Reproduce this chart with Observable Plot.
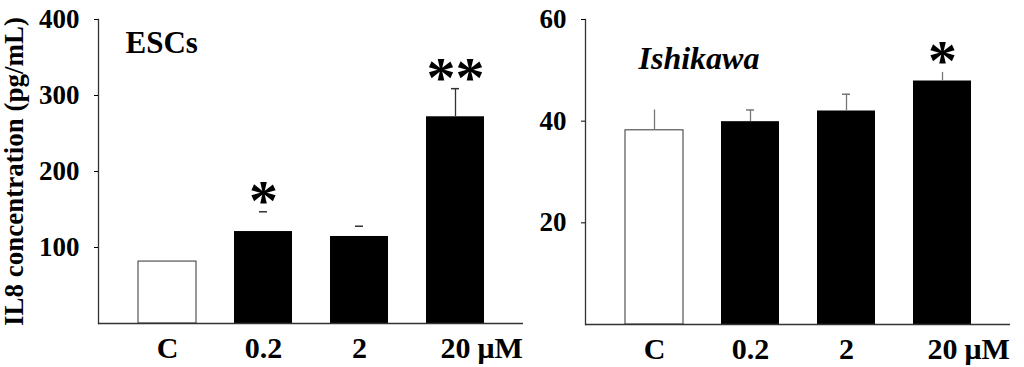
<!DOCTYPE html>
<html>
<head>
<meta charset="utf-8">
<script src="https://cdn.jsdelivr.net/npm/d3@7"></script>
<script src="https://cdn.jsdelivr.net/npm/@observablehq/plot@0.6"></script>
<style>
  html, body { margin: 0; padding: 0; background: white; }
  #wrap { display: flex; width: 1024px; height: 367px; overflow: hidden; }
</style>
</head>
<body>
<div id="wrap"></div>
<script>
const categories = ["C", "0.2", "2", "20"];
const unit = "μM";
const yLabel = "IL8 concentration (pg/mL)";

const escTitle = "ESCs";
const escValues = [81.5, 121, 114.5, 272];
const escErrors = [0, 26, 13.5, 37];
const escSig = ["", "*", "", "**"];
const escTicks = [100, 200, 300, 400];
const escDomain = [0, 400];

const ishTitle = "Ishikawa";
const ishValues = [38.2, 39.9, 42, 47.9];
const ishErrors = [4, 2.3, 3.3, 1.7];
const ishSig = ["", "", "", "*"];
const ishTicks = [20, 40, 60];
const ishDomain = [0, 60];

function panel(o) {
  const rows = categories.map((c, i) => ({cat: c, value: o.values[i], err: o.errors[i], sig: o.sig[i], control: i === 0}));
  const withErr = rows.filter(d => d.err > 0);
  const marks = [
    Plot.barY(rows.filter(d => d.control), {x: "cat", y: "value", fill: "white", stroke: "#333", strokeWidth: 1}),
    Plot.barY(rows.filter(d => !d.control), {x: "cat", y: "value", fill: "black"}),
    Plot.ruleX(withErr.filter(o.whiskers), {x: "cat", y1: "value", y2: d => d.value + d.err, stroke: o.whisker, strokeWidth: 1.3}),
    Plot.tickY(withErr.filter(o.caps), {x: "cat", y: d => d.value + d.err, insetLeft: 25, insetRight: 25, stroke: o.whisker, strokeWidth: 1.5}),
    Plot.text(rows.filter(d => d.sig), {x: "cat", y: d => d.value + d.err, text: "sig", lineAnchor: "bottom", dy: o.sigDy, fontSize: 58, fontWeight: "bold", letterSpacing: 0}),
    Plot.ruleY([0], {stroke: "#333", strokeWidth: 1.3}),
    Plot.frame({anchor: "left", stroke: "#333", strokeWidth: 1.3}),
    Plot.axisY({ticks: o.ticks, tickSize: 4, tickPadding: 15, fontSize: 27, fontWeight: "bold", label: null}),
    Plot.axisX({tickSize: 0, tickPadding: 13, fontSize: 30, fontWeight: "bold", label: null}),
    Plot.text([unit], {x: () => categories[categories.length - 1], y: () => 0, text: d => d, textAnchor: "start", lineAnchor: "top", dx: 22, dy: 13, fontSize: 30, fontWeight: "bold"}),
    Plot.text([o.title], {frameAnchor: "top-left", text: d => d, textAnchor: "start", lineAnchor: "bottom", dx: o.titleDx, dy: o.titleDy, fontSize: o.titleSize, fontWeight: "bold", fontStyle: o.titleStyle})
  ];
  if (o.yLabel) {
    marks.push(Plot.text([o.yLabel], {frameAnchor: "left", text: d => d, rotate: -90, dx: -84, textAnchor: "middle", lineAnchor: "middle", fontSize: 27, fontWeight: "bold"}));
  }
  return Plot.plot({
    width: o.width,
    height: 367,
    marginLeft: o.marginLeft,
    marginRight: o.marginRight,
    marginTop: 19,
    marginBottom: o.marginBottom,
    x: {domain: categories, padding: 0.4},
    y: {domain: o.domain},
    style: {fontFamily: "'Liberation Serif', 'Times New Roman', serif", color: "black", background: "white", overflow: "visible"},
    marks
  });
}

const wrap = document.getElementById("wrap");
wrap.appendChild(panel({
  values: escValues, errors: escErrors, sig: escSig, ticks: escTicks, domain: escDomain,
  title: escTitle, titleStyle: "normal", titleSize: 31, titleDx: 27, titleDy: 33,
  width: 524, marginLeft: 98, marginRight: 1, marginBottom: 44,
  whisker: "#333", whiskers: d => d.cat === "20", caps: d => true, sigDy: 8, yLabel: yLabel
}));
wrap.appendChild(panel({
  values: ishValues, errors: ishErrors, sig: ishSig, ticks: ishTicks, domain: ishDomain,
  title: ishTitle, titleStyle: "italic", titleSize: 32, titleDx: 53, titleDy: 49,
  width: 500, marginLeft: 61, marginRight: 14, marginBottom: 43,
  whisker: "#777", whiskers: d => true, caps: d => d.cat === "0.2" || d.cat === "2", sigDy: 8
}));
</script>
</body>
</html>
